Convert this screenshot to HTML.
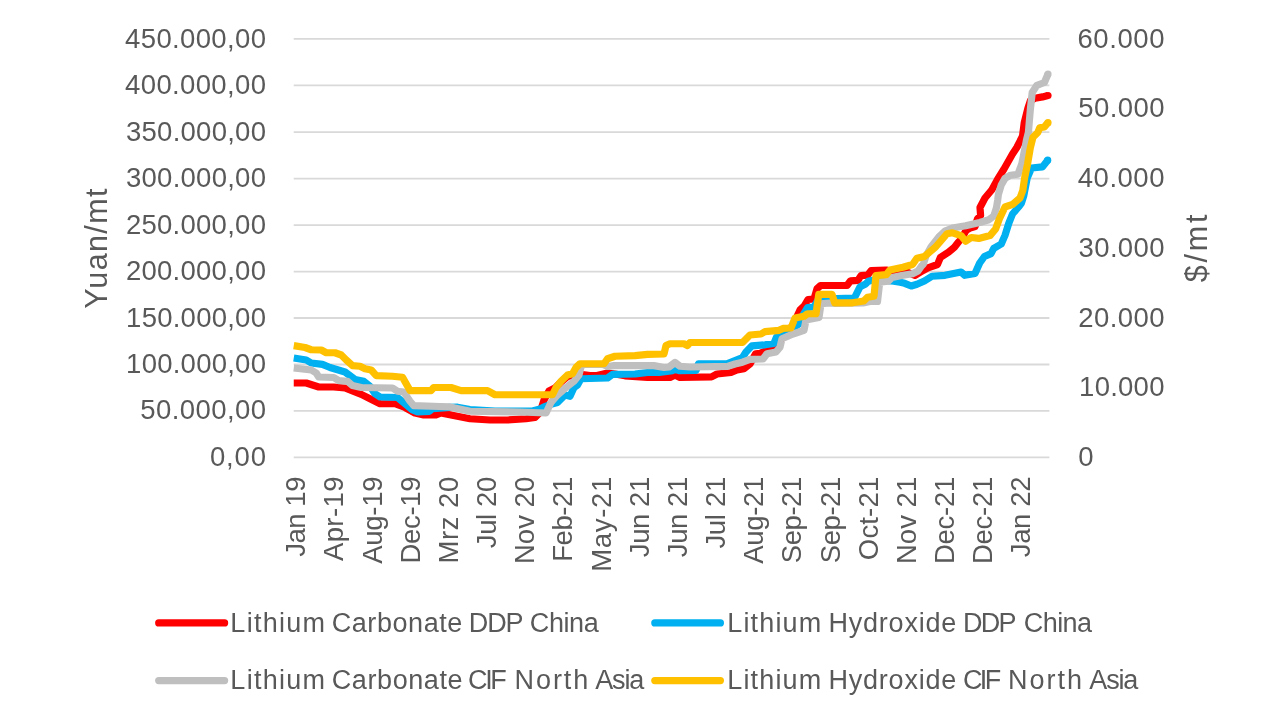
<!DOCTYPE html>
<html lang="en"><head><meta charset="utf-8"><title>Lithium prices</title>
<style>
html,body{margin:0;padding:0;background:#fff;}
body{width:1280px;height:721px;overflow:hidden;}
svg{display:block;}
text{font-family:"Liberation Sans", sans-serif;fill:#595959;}
.ax{font-size:27.5px;}
.ttl{font-size:30.5px;}
.lg{font-size:27px;}
.s{fill:none;stroke-width:7.2;stroke-linejoin:round;stroke-linecap:butt;}
</style></head><body>
<svg width="1280" height="721" viewBox="0 0 1280 721">
<rect width="1280" height="721" fill="#fff"/>

<g stroke="#d9d9d9" stroke-width="1.8">
<line x1="293.7" x2="1049.4" y1="457.40" y2="457.40"/>
<line x1="293.7" x2="1049.4" y1="410.80" y2="410.80"/>
<line x1="293.7" x2="1049.4" y1="364.50" y2="364.50"/>
<line x1="293.7" x2="1049.4" y1="318.00" y2="318.00"/>
<line x1="293.7" x2="1049.4" y1="271.70" y2="271.70"/>
<line x1="293.7" x2="1049.4" y1="225.10" y2="225.10"/>
<line x1="293.7" x2="1049.4" y1="178.70" y2="178.70"/>
<line x1="293.7" x2="1049.4" y1="132.10" y2="132.10"/>
<line x1="293.7" x2="1049.4" y1="85.40" y2="85.40"/>
<line x1="293.7" x2="1049.4" y1="38.90" y2="38.90"/>
</g>
<g class="ax">
<text x="209.91" y="466.00" textLength="56.03" lengthAdjust="spacing">0,00</text>
<text x="140.31" y="419.40" textLength="125.64" lengthAdjust="spacing">50.000,00</text>
<text x="126.1" y="373.10" textLength="139.85" lengthAdjust="spacing">100.000,00</text>
<text x="126.1" y="326.60" textLength="139.85" lengthAdjust="spacing">150.000,00</text>
<text x="125.92" y="280.30" textLength="140.02" lengthAdjust="spacing">200.000,00</text>
<text x="125.92" y="233.70" textLength="140.02" lengthAdjust="spacing">250.000,00</text>
<text x="126.01" y="187.30" textLength="139.94" lengthAdjust="spacing">300.000,00</text>
<text x="126.01" y="140.70" textLength="139.94" lengthAdjust="spacing">350.000,00</text>
<text x="125.08" y="94.00" textLength="140.86" lengthAdjust="spacing">400.000,00</text>
<text x="125.08" y="47.50" textLength="140.86" lengthAdjust="spacing">450.000,00</text>
<text x="1078.2" y="466.00">0</text>
<text x="1079.1" y="396.25" textLength="85.35" lengthAdjust="spacing">10.000</text>
<text x="1078.28" y="326.50" textLength="86.16" lengthAdjust="spacing">20.000</text>
<text x="1078.62" y="256.75" textLength="85.82" lengthAdjust="spacing">30.000</text>
<text x="1077.83" y="187.00" textLength="86.61" lengthAdjust="spacing">40.000</text>
<text x="1078.31" y="117.25" textLength="86.13" lengthAdjust="spacing">50.000</text>
<text x="1077.38" y="47.50" textLength="87.06" lengthAdjust="spacing">60.000</text>
</g>
<text class="ttl" transform="translate(106.70,0) rotate(-90)" x="-308.73" y="0" textLength="120.21" lengthAdjust="spacing">Yuan/mt</text>
<text class="ttl" transform="translate(1207.10,0) rotate(-90)" x="-282.37" y="0" textLength="67.85" lengthAdjust="spacing">$/mt</text>
<text class="ax" transform="translate(305.30,0) rotate(-90)" x="-556.77" y="0" textLength="80.26" lengthAdjust="spacing">Jan 19</text>
<text class="ax" transform="translate(343.46,0) rotate(-90)" x="-561.07" y="0" textLength="84.56" lengthAdjust="spacing">Apr-19</text>
<text class="ax" transform="translate(381.62,0) rotate(-90)" x="-563.71" y="0" textLength="87.19" lengthAdjust="spacing">Aug-19</text>
<text class="ax" transform="translate(419.78,0) rotate(-90)" x="-563.51" y="0" textLength="86.99" lengthAdjust="spacing">Dec-19</text>
<text class="ax" transform="translate(457.94,0) rotate(-90)" x="-563.51" y="0" textLength="86.74" lengthAdjust="spacing">Mrz 20</text>
<text class="ax" transform="translate(496.10,0) rotate(-90)" x="-548.14" y="0" textLength="71.37" lengthAdjust="spacing">Jul 20</text>
<text class="ax" transform="translate(534.26,0) rotate(-90)" x="-564.06" y="0" textLength="87.29" lengthAdjust="spacing">Nov 20</text>
<text class="ax" transform="translate(572.42,0) rotate(-90)" x="-561.78" y="0" textLength="85.01" lengthAdjust="spacing">Feb-21</text>
<text class="ax" transform="translate(610.58,0) rotate(-90)" x="-571.76" y="0" textLength="94.99" lengthAdjust="spacing">May-21</text>
<text class="ax" transform="translate(648.74,0) rotate(-90)" x="-557.19" y="0" textLength="80.41" lengthAdjust="spacing">Jun 21</text>
<text class="ax" transform="translate(686.90,0) rotate(-90)" x="-557.19" y="0" textLength="80.41" lengthAdjust="spacing">Jun 21</text>
<text class="ax" transform="translate(725.06,0) rotate(-90)" x="-548.61" y="0" textLength="71.84" lengthAdjust="spacing">Jul 21</text>
<text class="ax" transform="translate(763.22,0) rotate(-90)" x="-563.71" y="0" textLength="86.94" lengthAdjust="spacing">Aug-21</text>
<text class="ax" transform="translate(801.38,0) rotate(-90)" x="-563.15" y="0" textLength="86.38" lengthAdjust="spacing">Sep-21</text>
<text class="ax" transform="translate(839.54,0) rotate(-90)" x="-563.15" y="0" textLength="86.38" lengthAdjust="spacing">Sep-21</text>
<text class="ax" transform="translate(877.70,0) rotate(-90)" x="-560.18" y="0" textLength="83.41" lengthAdjust="spacing">Oct-21</text>
<text class="ax" transform="translate(915.86,0) rotate(-90)" x="-564.06" y="0" textLength="87.28" lengthAdjust="spacing">Nov 21</text>
<text class="ax" transform="translate(954.02,0) rotate(-90)" x="-564.05" y="0" textLength="87.28" lengthAdjust="spacing">Dec-21</text>
<text class="ax" transform="translate(992.18,0) rotate(-90)" x="-564.05" y="0" textLength="87.28" lengthAdjust="spacing">Dec-21</text>
<text class="ax" transform="translate(1030.34,0) rotate(-90)" x="-557.19" y="0" textLength="80.67" lengthAdjust="spacing">Jan 22</text>
<polyline class="s" stroke="#ff0000" points="293.75,383 306.25,383 318.75,387 333.75,387 345,388 355,392 361.25,394.4 370,398.75 380,403.75 395,403.75 405,407.5 415,413 423.75,415 436,415 441,413 451,415 470,418.75 490,420 507.5,420 526,418.75 535,417.5 540,412.5 544,400 549,391 555,388 561,382 567.5,376.5 574,375 582.5,374.5 590,375.5 597,375.5 607.5,373 615,374 625,375.8 647.5,377.5 670,377.5 675,375 680,377.5 711.5,376.9 717,374 731,372.5 737,370 744,368.75 750,364 755.6,353.75 760,353.3 768,350 771.5,349.5 776,345 785,335 793,325 800,310 804,306.25 808,299.5 814,299 817,288.75 820.6,285.5 847,285.5 850.6,280.8 858,280.3 861,275.6 867.5,275.2 871.25,270.5 886.25,270 893.75,272 907,272 915,275.3 921.5,271.5 928,267.8 937.5,264.5 940.3,257.6 948.75,252 954.4,247.2 958.5,242 962,238 966,230.5 970,228.2 975,226.5 977.5,219 980.6,215.5 980,207.5 985,198 991.9,189.7 997.5,179.4 1004,169 1012.5,154 1016.8,147.5 1022.5,136.25 1024.2,123 1028,108 1030.5,100.5 1035,98.2 1042.5,96.9 1048,95.5"/>
<circle cx="1048" cy="95.5" r="3.6" fill="#ff0000"/>
<polyline class="s" stroke="#00b0f0" points="293.75,358 306.25,360 311.25,363 322.5,364.4 330,367.5 345,372 355,379.4 363.75,381.25 370,386.25 375,393.75 380,397 397.5,397.5 405,403.75 412.5,410 417.5,412 429,411.5 432.5,408.75 450,407.3 457.5,407.2 470,409.5 495,411 532.5,411 540,409 545,406.5 550,404.5 557.5,402.5 560,400 565,395 570,396.25 574,387.5 577.5,385 581,378.75 607.5,378 612.5,374.4 635,374 647.5,372.5 659,372.5 672.5,370.6 675,369.4 679,370.6 696,370.5 698.5,363.8 727.5,363.6 742.5,357.5 746,352 752,345.8 765,344.8 774,343.4 776.5,337 785,332 791,329.5 796,326 799,324 803,315 807.5,307.5 814,307 818,300 825,299 836.5,298.6 854.4,298 860,286.9 865.6,284 868.4,281.25 872,280.3 885,280.5 893.75,281.25 900,282.3 904.7,283.3 911.25,286 917,284.2 924.4,281 932,276.25 945,275.3 961,272 964.7,275.3 975,273.4 979.7,263 984.4,256.5 991,253.6 993.75,248.4 1001.25,244 1005,235.3 1008.75,223.4 1012.5,214 1018.5,207 1021.5,203 1023.7,196 1027.2,178 1031.5,168 1042.5,166.9 1047.7,160.2"/>
<circle cx="1047.7" cy="160.2" r="3.6" fill="#00b0f0"/>
<polyline class="s" stroke="#bfbfbf" points="293.75,368 311.25,370 316.25,373 318.75,377 333.75,377.5 338.75,380.6 347.5,381.25 352.5,385.6 361.25,387.5 392.5,388 397.5,391.25 403.75,392 410,401.25 413.75,405.6 440,406.5 450,406.9 470,411.25 520,412 546,413 551,402.5 557.5,395 566,387.5 574,381.25 579,375 581,367 583,364.5 603,364.5 607.5,366.5 614,365.6 654,365.6 664,367.5 669,367 675,362.5 680,366.25 690,367 727.5,366.4 735,364 742.5,362.2 750,359.4 763,359 767,353.75 776,352 780,347.2 782,338.75 793,334 804,330.3 806,320 819,317.5 821,303.75 830,303 834.7,303.5 863,303 870,301.5 877.5,301.5 879.7,282.2 888,281.25 892,277.5 903,275.2 912.5,273.75 918,271 921.5,266 923.4,264 926,256 931,247 939.4,236.3 945,231 952.5,228 965.6,225.8 979.7,222.5 989,219.7 993.75,216 996.5,207.5 997.7,200 998.4,194.4 1001.25,185 1005,178.4 1010.6,175.2 1018,174.2 1021.9,163.4 1024.7,149.4 1026.5,140 1028.4,132.5 1030.3,110 1032.2,92.5 1036.9,85.3 1044.4,82.5 1048,74"/>
<circle cx="1048" cy="74" r="3.6" fill="#bfbfbf"/>
<polyline class="s" stroke="#ffc000" points="293.75,345.6 305,347.5 311.25,349.75 321.25,350 326.25,352.75 335,352.75 341.25,355 346.25,360 352.5,365.6 360,366.25 365,368.75 371.25,370 376.25,375.6 392.5,376.25 402.5,377.25 410,390.6 431,390.6 433.75,387.5 451,387.5 461,390.6 487.5,390.6 495,394.75 552.5,394.75 556,387.5 561,381.25 567.5,375 572.5,373.75 576,367.5 580,363.75 604,363.75 607.5,358.75 615,356.25 635,355.6 647.5,354.4 664,354 666,345.6 670,343.75 684,343.75 687.5,345.6 690,342.5 742.5,342.5 750,335 761,334 765,331.7 779,330.3 783,328.4 791,328 795,318 804,316.25 807.5,313.75 816,313.75 818.75,294.4 832,294.4 834.7,302.8 852.5,302.8 863.75,301 867.5,297.2 874,296.25 876,275.6 886.25,274.7 890,270 903,267.2 912.5,264.5 917,258.2 924.4,256.4 935.6,247 947,233.75 952.5,232.8 961,235.6 965.6,241.25 971.25,237.5 978.75,238.4 990,235.6 995.6,229 999.4,218.75 1005,207 1012.5,204.4 1020,198 1022.8,190.6 1024.7,177.5 1027.5,164.4 1030.3,148 1033,137.2 1037.8,132.5 1039.7,127.8 1044.4,126.9 1048,122.7"/>
<circle cx="1048" cy="122.7" r="3.6" fill="#ffc000"/>
<g fill="none" stroke-width="7.2" stroke-linecap="round">
<line x1="158.7" x2="224.6" y1="622.9" y2="622.9" stroke="#ff0000"/>
<line x1="654.8" x2="720.4" y1="622.9" y2="622.9" stroke="#00b0f0"/>
<line x1="158.7" x2="224.6" y1="680.6" y2="680.6" stroke="#bfbfbf"/>
<line x1="654.8" x2="720.4" y1="680.6" y2="680.6" stroke="#ffc000"/>
</g>
<g class="lg">
<text y="631.8"><tspan x="230.37" textLength="94.58" lengthAdjust="spacing">Lithium</tspan> <tspan x="331.72" textLength="130.67" lengthAdjust="spacing">Carbonate</tspan> <tspan x="468.81" textLength="54.32" lengthAdjust="spacing">DDP</tspan> <tspan x="529.8" textLength="68.95" lengthAdjust="spacing">China</tspan></text>
<text y="631.8"><tspan x="727.37" textLength="93.76" lengthAdjust="spacing">Lithium</tspan> <tspan x="828.6" textLength="127.6" lengthAdjust="spacing">Hydroxide</tspan> <tspan x="963.06" textLength="53.08" lengthAdjust="spacing">DDP</tspan> <tspan x="1023.72" textLength="68.37" lengthAdjust="spacing">China</tspan></text>
<text y="689.2"><tspan x="230.37" textLength="94.58" lengthAdjust="spacing">Lithium</tspan> <tspan x="331.72" textLength="130.9" lengthAdjust="spacing">Carbonate</tspan> <tspan x="468.07" textLength="38.72" lengthAdjust="spacing">CIF</tspan> <tspan x="514.6" textLength="73.59" lengthAdjust="spacing">North</tspan> <tspan x="595.29" textLength="48.98" lengthAdjust="spacing">Asia</tspan></text>
<text y="689.2"><tspan x="727.37" textLength="93.76" lengthAdjust="spacing">Lithium</tspan> <tspan x="828.6" textLength="127.6" lengthAdjust="spacing">Hydroxide</tspan> <tspan x="962.91" textLength="38.44" lengthAdjust="spacing">CIF</tspan> <tspan x="1008.06" textLength="74.09" lengthAdjust="spacing">North</tspan> <tspan x="1089.29" textLength="49.07" lengthAdjust="spacing">Asia</tspan></text>
</g>
</svg></body></html>
